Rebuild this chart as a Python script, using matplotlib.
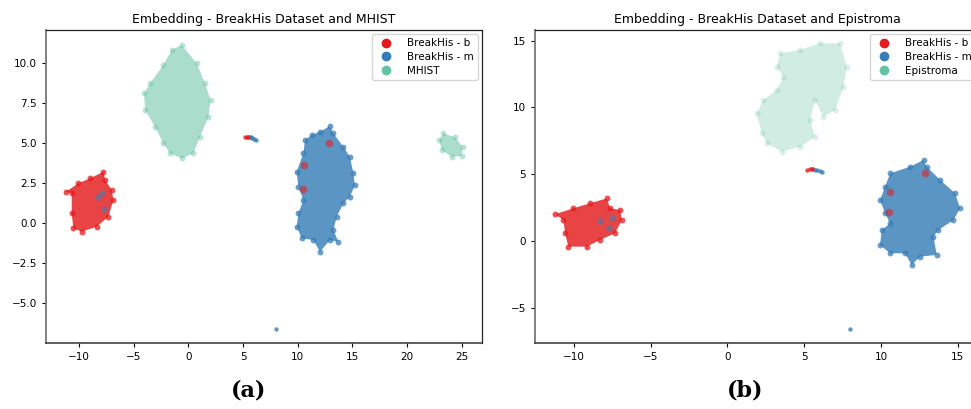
import matplotlib
matplotlib.use("Agg")
import matplotlib.pyplot as plt
from matplotlib.lines import Line2D

# ---------------- data ----------------
RED = "#e41a1c"
BLUE = "#377eb8"
TEAL = "#66c2a5"

# Panel (a): cluster outlines (x, y)
a_mhist_main_x = [-0.6, 0.76, 1.52, 2.04, 1.83, 1.07, 0.46, -0.61, -1.68, -2.29, -3.05, -3.96, -4.05, -3.51, -2.29, -1.52]
a_mhist_main_y = [11.1, 9.96, 8.71, 7.67, 6.63, 5.39, 4.35, 4.04, 4.35, 4.97, 6.01, 7.05, 8.09, 8.71, 9.85, 10.79]
a_mhist_small_x = [23.32, 24.39, 25.09, 25.0, 24.09, 23.17, 22.96]
a_mhist_small_y = [5.6, 5.35, 4.76, 4.18, 4.14, 4.56, 5.18]
a_benign_x = [-11.2, -10.06, -8.99, -7.77, -7.62, -7.01, -6.86, -7.32, -8.38, -9.76, -10.52, -10.67, -10.67]
a_benign_y = [1.96, 2.48, 2.79, 3.2, 2.69, 2.06, 1.44, 0.40, -0.22, -0.53, -0.33, 0.61, 1.86]
a_malig_x = [12.04, 12.95, 13.26, 14.17, 14.78, 15.09, 15.24, 14.78, 14.17, 13.57, 13.26, 13.72, 12.95, 12.04, 11.43, 10.37, 9.91, 10.06, 10.52, 10.06, 9.91, 10.52, 10.67, 11.28]
a_malig_y = [5.7, 6.05, 5.6, 4.76, 4.14, 3.1, 2.37, 1.65, 1.23, 0.4, -0.43, -1.16, -1.05, -1.78, -1.05, -0.95, -0.22, 0.61, 1.44, 2.27, 3.2, 4.35, 5.18, 5.49]

# Panel (b): cluster outlines (x, y)
b_epi_x = [3.43, 4.74, 6.04, 7.34, 7.77, 7.56, 7.01, 6.25, 5.71, 5.39, 5.71, 4.74, 3.54, 2.57, 2.24, 1.91, 2.35, 3.22, 3.65, 3.22]
b_epi_y = [14.05, 14.3, 14.8, 14.8, 13.05, 11.56, 9.81, 9.31, 10.56, 9.06, 7.82, 7.07, 6.7, 7.32, 8.07, 9.56, 10.56, 11.31, 12.31, 13.06]
b_benign_x = [-11.22, -10.02, -8.94, -7.85, -7.63, -6.98, -6.87, -7.31, -8.29, -9.15, -10.35, -10.56, -10.67]
b_benign_y = [2.01, 2.46, 2.83, 3.2, 2.46, 2.33, 1.58, 0.59, 0.09, -0.41, -0.41, 0.59, 1.58]
b_malig_x = [10.6, 11.9, 12.77, 12.98, 13.85, 14.83, 15.15, 14.72, 13.74, 13.42, 13.63, 12.55, 12.0, 11.57, 10.6, 9.94, 10.05, 10.6, 10.27, 9.94, 10.27]
b_malig_y = [5.07, 5.57, 6.07, 5.57, 4.58, 3.58, 2.46, 1.58, 0.84, 0.34, -1.03, -1.16, -1.78, -0.91, -0.91, -0.29, 0.84, 1.33, 2.08, 3.08, 4.08]

# Isolated points shared by both embeddings
strip_b_x = [5.2, 5.35, 5.5, 5.6]
strip_b_y = [5.35, 5.4, 5.4, 5.38]
strip_m_x = [5.7, 5.85, 6.0, 6.15]
strip_m_y = [5.35, 5.3, 5.25, 5.2]
outlier_m_x = [8.0]
outlier_m_y = [-6.6]

# Red (benign) patches inside the malignant cloud, blue patches inside benign cloud
a_red_patch_x = [10.6, 10.5, 12.9]
a_red_patch_y = [3.6, 2.1, 5.0]
a_blue_patch_x = [-7.7, -8.3, -7.9]
a_blue_patch_y = [0.9, 1.6, 1.9]
b_red_patch_x = [10.6, 10.5, 12.9]
b_red_patch_y = [3.7, 2.2, 5.1]
b_blue_patch_x = [-7.7, -8.3, -7.5]
b_blue_patch_y = [1.0, 1.5, 1.7]

a_labels = ["BreakHis - b", "BreakHis - m", "MHIST"]
b_labels = ["BreakHis - b", "BreakHis - m", "Epistroma"]

# ---------------- drawing ----------------
plt.rcParams["font.family"] = "DejaVu Sans"
fig = plt.figure(figsize=(9.71, 4.09), dpi=100)
ax1 = fig.add_axes([0.0474, 0.1614, 0.449, 0.7653])
ax2 = fig.add_axes([0.551, 0.1614, 0.4583, 0.7653])


def cluster(ax, xs, ys, color, alpha, edge_alpha):
    ax.fill(xs, ys, color=color, alpha=alpha, lw=0, zorder=1)
    ax.scatter(xs, ys, s=18, color=color, alpha=edge_alpha, lw=0, zorder=2)


def panel(ax, ben, mal, others, red_p, blue_p, title, labels, other_alpha):
    for (ox, oy) in others:
        cluster(ax, ox, oy, TEAL, other_alpha, other_alpha * 0.8)
    cluster(ax, ben[0], ben[1], RED, 0.82, 0.75)
    cluster(ax, mal[0], mal[1], BLUE, 0.82, 0.75)
    ax.scatter(red_p[0], red_p[1], s=30, color=RED, alpha=0.55, lw=0, zorder=3)
    ax.scatter(blue_p[0], blue_p[1], s=22, color=BLUE, alpha=0.55, lw=0, zorder=3)
    ax.scatter(strip_b_x, strip_b_y, s=10, color=RED, alpha=0.8, lw=0, zorder=3)
    ax.scatter(strip_m_x, strip_m_y, s=10, color=BLUE, alpha=0.8, lw=0, zorder=3)
    ax.scatter(outlier_m_x, outlier_m_y, s=10, color=BLUE, alpha=0.8, lw=0, zorder=3)
    ax.set_title(title, fontsize=9, pad=5)
    ax.tick_params(labelsize=7.5, length=3, width=0.8)
    ax.spines["left"].set_color("#777777")
    ax.spines["left"].set_linewidth(1.3)
    ax.spines["bottom"].set_color("#333333")
    ax.spines["bottom"].set_linewidth(1.1)
    for side in ["top", "right"]:
        ax.spines[side].set_color("#222222")
        ax.spines[side].set_linewidth(0.9)
    handles = [Line2D([], [], ls="", marker="o", ms=6, color=c) for c in (RED, BLUE, TEAL)]
    ax.legend(handles, labels, loc="upper right", fontsize=7.5, frameon=True,
              borderaxespad=0.4, handletextpad=1.0, labelspacing=0.35)


panel(ax1, (a_benign_x, a_benign_y), (a_malig_x, a_malig_y),
      [(a_mhist_main_x, a_mhist_main_y), (a_mhist_small_x, a_mhist_small_y)],
      (a_red_patch_x, a_red_patch_y), (a_blue_patch_x, a_blue_patch_y),
      "Embedding - BreakHis Dataset and MHIST", a_labels, 0.55)
ax1.set_xlim(-13.02, 26.86)
ax1.set_ylim(-7.47, 12.04)
ax1.set_xticks([-10, -5, 0, 5, 10, 15, 20, 25])
ax1.set_yticks([-5.0, -2.5, 0.0, 2.5, 5.0, 7.5, 10.0])

panel(ax2, (b_benign_x, b_benign_y), (b_malig_x, b_malig_y),
      [(b_epi_x, b_epi_y)],
      (b_red_patch_x, b_red_patch_y), (b_blue_patch_x, b_blue_patch_y),
      "Embedding - BreakHis Dataset and Epistroma", b_labels, 0.3)
ax2.set_xlim(-12.52, 16.45)
ax2.set_ylim(-7.62, 15.8)
ax2.set_xticks([-10, -5, 0, 5, 10, 15])
ax2.set_yticks([-5, 0, 5, 10, 15])

fig.text(0.256, 0.03, "(a)", fontsize=16, fontweight="bold", family="DejaVu Serif", ha="center", va="baseline")
fig.text(0.767, 0.03, "(b)", fontsize=16, fontweight="bold", family="DejaVu Serif", ha="center", va="baseline")

fig.savefig("out.png", dpi=100)
